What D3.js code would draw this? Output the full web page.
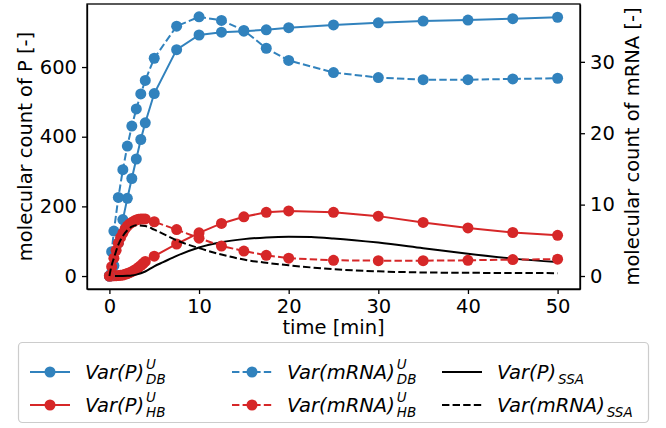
<!DOCTYPE html>
<html><head><meta charset="utf-8">
<script src="https://cdn.jsdelivr.net/npm/d3@7"></script>
<style>body{margin:0;background:#fff;} svg{display:block;font-family:"DejaVu Sans",sans-serif;}</style>
</head><body>
<svg id="c" width="666" height="428"></svg>
<script>
// ---- data ----
const tBlue = [0,0.25,0.5,1,1.5,2,2.5,3,3.5,4,5,7.5,10,12.5,15,17.5,20,25,30,35,40,45,50];
const varP_DB = [0,10,30,95,162,223,280,336,392,440,524,650,692,700,703,707,713,721,727,732,735,739,743];
const varM_DB = [0,3.4,6.3,11.0,14.9,18.2,21.0,23.4,25.5,27.4,30.5,35.0,36.3,35.8,34.4,31.9,30.2,28.5,27.8,27.5,27.5,27.6,27.7];
const tRed = [0,0.25,0.5,0.75,1,1.25,1.5,1.75,2,2.25,2.5,2.75,3,3.25,3.5,3.75,4,5,7.5,10,12.5,15,17.5,20,25,30,35,40,45,50];
const varP_HB = [0,0.2,0.5,1,1.5,2.2,3,5,7,9.5,12.5,16,20,25,30,36,42,57,92,124,151,170,183,187,183,172,154,138,125,117];
const varM_HB = [0,1.3,2.5,3.6,4.6,5.4,6.0,6.6,7.0,7.3,7.5,7.7,7.85,7.95,8.0,8.0,8.0,7.6,6.5,5.3,4.2,3.5,2.9,2.5,2.2,2.15,2.15,2.2,2.3,2.35];
const tSSA = [0,0.25,0.5,1,1.5,2,2.5,3,4,5,6,7.5,10,12.5,15,17.5,20,22.5,25,30,35,40,45,50];
const varP_SSA = [0,0,0,0,0.1,0.5,1.5,4,13,28,40,58,82,97,106,111,113,112,108,96,80,64,50,40];
const varM_SSA = [0,1.5,2.5,4.4,5.6,6.4,6.9,7.1,7.0,6.5,5.9,5.0,3.9,3.0,2.3,1.85,1.5,1.2,0.95,0.65,0.5,0.45,0.42,0.4];
const xTicks = [0,10,20,30,40,50];
const yLeftTicks = [0,200,400,600];
const yRightTicks = [0,10,20,30];

// ---- layout ----
const svg = d3.select("#c");
const L = 87, R = 580, T = 4, B = 289;
const blue = "#3182bd", red = "#d62728";
const x = d3.scaleLinear().domain([-2.5, 52.5]).range([L, R]);
const yL = d3.scaleLinear().domain([-37.2, 781]).range([B, T]);
const yR = d3.scaleLinear().domain([-1.82, 38.1]).range([B, T]);
const FS = 19.5;

function series(ts, vs, y, color, dash, markers, curve) {
  const pts = ts.map((t,i)=>[t, vs[i]]);
  const line = d3.line().x(d=>x(d[0])).y(d=>y(d[1])).curve(curve || d3.curveLinear);
  svg.append("path").attr("d", line(pts)).attr("fill","none").attr("stroke",color)
    .attr("stroke-width",2).attr("stroke-dasharray", dash ? "7.4,3.2" : null);
  if (markers) {
    svg.append("g").selectAll("circle").data(pts).join("circle")
      .attr("cx",d=>x(d[0])).attr("cy",d=>y(d[1])).attr("r",5.5).attr("fill",color);
  }
}
series(tBlue, varP_DB, yL, blue, false, true);
series(tRed, varP_HB, yL, red, false, true);
series(tSSA, varP_SSA, yL, "#000", false, false, d3.curveMonotoneX);
series(tBlue, varM_DB, yR, blue, true, true);
series(tRed, varM_HB, yR, red, true, true);
series(tSSA, varM_SSA, yR, "#000", true, false, d3.curveMonotoneX);

// ---- axes ----
function styleAxis(g){
  g.selectAll("path").attr("stroke","#000").attr("stroke-width",1.3);
  g.selectAll("line").attr("stroke","#000").attr("stroke-width",1.3);
  g.selectAll("text").attr("font-size",FS).attr("fill","#000").attr("font-family","DejaVu Sans");
}
const ax = svg.append("g").attr("transform",`translate(0,${B})`)
  .call(d3.axisBottom(x).tickValues(xTicks).tickSize(5).tickPadding(5).tickSizeOuter(0));
styleAxis(ax);
const ayl = svg.append("g").attr("transform",`translate(${L},0)`)
  .call(d3.axisLeft(yL).tickValues(yLeftTicks).tickSize(5).tickPadding(5).tickSizeOuter(0));
styleAxis(ayl);
const ayr = svg.append("g").attr("transform",`translate(${R},0)`)
  .call(d3.axisRight(yR).tickValues(yRightTicks).tickSize(5).tickPadding(5).tickSizeOuter(0));
styleAxis(ayr);
svg.append("rect").attr("x",L).attr("y",T).attr("width",R-L).attr("height",B-T)
  .attr("fill","none").attr("stroke","#000").attr("stroke-width",1.3);

// ---- labels ----
svg.append("text").attr("x",(L+R)/2).attr("y",334).attr("text-anchor","middle")
  .attr("font-size",FS).text("time [min]");
svg.append("text").attr("transform",`translate(31.5,${(T+B)/2}) rotate(-90)`).attr("text-anchor","middle")
  .attr("font-size",FS).text("molecular count of P [-]");
svg.append("text").attr("transform",`translate(639,${(T+B)/2}) rotate(-90)`).attr("text-anchor","middle")
  .attr("font-size",FS).text("molecular count of mRNA [-]");

// ---- legend ----
const lg = svg.append("g");
lg.append("rect").attr("x",18.5).attr("y",342.5).attr("width",630).attr("height",80).attr("rx",4)
  .attr("fill","#fff").attr("fill-opacity",0.8).attr("stroke","#ccc").attr("stroke-width",1.2);
const entries = [
  {col:0,row:0,color:blue,dash:false,mk:true,main:"Var(P)",sup:"U",sub:"DB"},
  {col:0,row:1,color:red,dash:false,mk:true,main:"Var(P)",sup:"U",sub:"HB"},
  {col:1,row:0,color:blue,dash:true,mk:true,main:"Var(mRNA)",sup:"U",sub:"DB"},
  {col:1,row:1,color:red,dash:true,mk:true,main:"Var(mRNA)",sup:"U",sub:"HB"},
  {col:2,row:0,color:"#000",dash:false,mk:false,main:"Var(P)",sup:null,sub:"SSA"},
  {col:2,row:1,color:"#000",dash:true,mk:false,main:"Var(mRNA)",sup:null,sub:"SSA"}
];
const colX = [30, 232, 442];
const rowY = [372, 405];
entries.forEach(e=>{
  const hx = colX[e.col], hy = rowY[e.row];
  lg.append("line").attr("x1",hx).attr("x2",hx+40).attr("y1",hy).attr("y2",hy)
    .attr("stroke",e.color).attr("stroke-width",2).attr("stroke-dasharray",e.dash?"7.4,3.2":null);
  if (e.mk) lg.append("circle").attr("cx",hx+20).attr("cy",hy).attr("r",5.5).attr("fill",e.color);
  const tx = hx + 55;
  const t = lg.append("text").attr("x",tx).attr("y",hy+7).attr("font-size",FS)
    .attr("font-style","italic").text(e.main);
  const w = t.node().getComputedTextLength();
  if (e.sup) lg.append("text").attr("x",tx+w+2).attr("y",hy-3).attr("font-size",13.5)
    .attr("font-style","italic").text(e.sup);
  lg.append("text").attr("x",tx+w+2).attr("y",hy+12).attr("font-size",13.5)
    .attr("font-style","italic").text(e.sub);
});
</script>
</body></html>
